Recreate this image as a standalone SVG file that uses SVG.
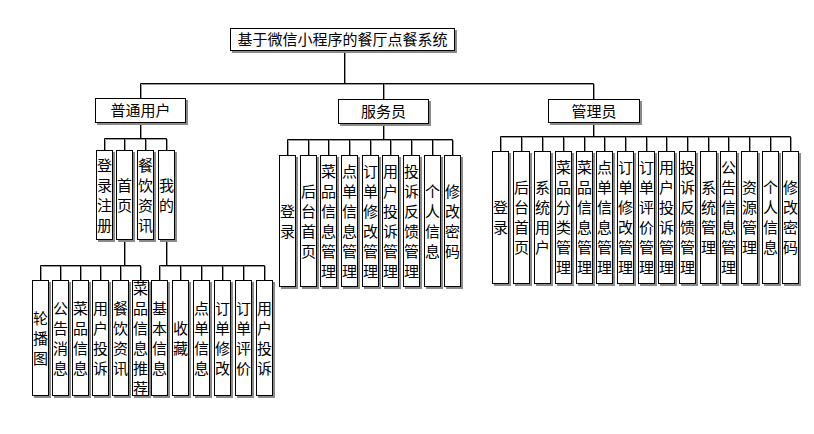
<svg xmlns="http://www.w3.org/2000/svg" width="814" height="434" viewBox="0 0 814 434">
<style>
.b{fill:#fff;stroke:#000;stroke-width:1;filter:url(#sh)}
.t{font-family:"Noto Sans CJK SC","Noto Sans CJK JP",sans-serif;font-size:15px;fill:#000;text-anchor:middle}
.c{fill:none;stroke:#000;stroke-width:1;filter:url(#shl)}
</style>
<defs>
<filter id="sh" filterUnits="userSpaceOnUse" x="0" y="0" width="814" height="434">
<feOffset in="SourceAlpha" dx="2" dy="2" result="o"/>
<feFlood flood-color="#8a8a8a"/>
<feComposite in2="o" operator="in" result="s"/>
<feMerge><feMergeNode in="s"/><feMergeNode in="SourceGraphic"/></feMerge>
</filter>
<filter id="shl" filterUnits="userSpaceOnUse" x="0" y="0" width="814" height="434">
<feOffset in="SourceAlpha" dx="1" dy="1" result="o"/>
<feFlood flood-color="#9a9a9a"/>
<feComposite in2="o" operator="in" result="s"/>
<feMerge><feMergeNode in="s"/><feMergeNode in="SourceGraphic"/></feMerge>
</filter>
</defs>
<rect width="814" height="434" fill="#fff"/>
<g id="connectors">
<path class="c" d="M344.5 50.5V83.5M140.5 83.5H593.5M140.5 83.5V98.5M383.5 83.5V99.5M593.5 83.5V99.5"/>
<path class="c" d="M140.5 122.5V138.5M104.5 138.5H166.5M104.5 138.5V150.5M124.5 138.5V150.5M145.5 138.5V150.5M166.5 138.5V150.5"/>
<path class="c" d="M124.5 239.5V265.5M40.5 265.5H140.5M40.5 265.5V280.5M60.5 265.5V280.5M80.5 265.5V280.5M100.5 265.5V280.5M120.5 265.5V280.5M140.5 265.5V280.5"/>
<path class="c" d="M166.5 239.5V265.5M159.5 265.5H264.5M159.5 265.5V280.5M180.5 265.5V280.5M201.5 265.5V280.5M222.5 265.5V280.5M243.5 265.5V280.5M264.5 265.5V280.5"/>
<path class="c" d="M383.5 123.5V139.5M287.5 139.5H452.5M287.5 139.5V155.5M308.5 139.5V155.5M328.5 139.5V155.5M349.5 139.5V155.5M370.5 139.5V155.5M390.5 139.5V155.5M411.5 139.5V155.5M432.5 139.5V155.5M452.5 139.5V155.5"/>
<path class="c" d="M593.5 122.5V136.5M500.5 136.5H790.5M500.5 136.5V151.5M521.5 136.5V151.5M542.5 136.5V151.5M563.5 136.5V151.5M584.5 136.5V151.5M604.5 136.5V151.5M625.5 136.5V151.5M646.5 136.5V151.5M666.5 136.5V151.5M687.5 136.5V151.5M708.5 136.5V151.5M728.5 136.5V151.5M749.5 136.5V151.5M770.5 136.5V151.5M790.5 136.5V151.5"/>
</g>
<g id="root"><rect class="b" x="230.5" y="28.5" width="224" height="22"/><text class="t" x="342.5" y="45">基于微信小程序的餐厅点餐系统</text></g>
<g id="user"><rect class="b" x="95.5" y="98.5" width="90" height="24"/><text class="t" x="140.5" y="116">普通用户</text></g>
<g id="waiter"><rect class="b" x="338.5" y="99.5" width="90" height="24"/><text class="t" x="383.5" y="117">服务员</text></g>
<g id="admin"><rect class="b" x="548.5" y="99.5" width="91" height="23"/><text class="t" x="594" y="116.5">管理员</text></g>

<g id="u-login"><rect class="b" x="96.5" y="150.5" width="16" height="89"/><text class="t" y="170.5"><tspan x="104.5">登</tspan><tspan x="104.5" dy="20">录</tspan><tspan x="104.5" dy="20">注</tspan><tspan x="104.5" dy="20">册</tspan></text></g>
<g id="u-home"><rect class="b" x="116.5" y="150.5" width="16" height="89"/><text class="t" y="190.5"><tspan x="124.5">首</tspan><tspan x="124.5" dy="20">页</tspan></text></g>
<g id="u-news"><rect class="b" x="137.5" y="150.5" width="16" height="89"/><text class="t" y="170.5"><tspan x="145.5">餐</tspan><tspan x="145.5" dy="20">饮</tspan><tspan x="145.5" dy="20">资</tspan><tspan x="145.5" dy="20">讯</tspan></text></g>
<g id="u-mine"><rect class="b" x="158.5" y="150.5" width="16" height="89"/><text class="t" y="190.5"><tspan x="166.5">我</tspan><tspan x="166.5" dy="20">的</tspan></text></g>

<g id="h-banner"><rect class="b" x="32.5" y="280.5" width="16" height="115"/><text class="t" y="323.5"><tspan x="40.5">轮</tspan><tspan x="40.5" dy="20">播</tspan><tspan x="40.5" dy="20">图</tspan></text></g>
<g id="h-notice"><rect class="b" x="52.5" y="280.5" width="16" height="115"/><text class="t" y="313.5"><tspan x="60.5">公</tspan><tspan x="60.5" dy="20">告</tspan><tspan x="60.5" dy="20">消</tspan><tspan x="60.5" dy="20">息</tspan></text></g>
<g id="h-dish"><rect class="b" x="72.5" y="280.5" width="16" height="115"/><text class="t" y="313.5"><tspan x="80.5">菜</tspan><tspan x="80.5" dy="20">品</tspan><tspan x="80.5" dy="20">信</tspan><tspan x="80.5" dy="20">息</tspan></text></g>
<g id="h-complain"><rect class="b" x="92.5" y="280.5" width="16" height="115"/><text class="t" y="313.5"><tspan x="100.5">用</tspan><tspan x="100.5" dy="20">户</tspan><tspan x="100.5" dy="20">投</tspan><tspan x="100.5" dy="20">诉</tspan></text></g>
<g id="h-news"><rect class="b" x="112.5" y="280.5" width="16" height="115"/><text class="t" y="313.5"><tspan x="120.5">餐</tspan><tspan x="120.5" dy="20">饮</tspan><tspan x="120.5" dy="20">资</tspan><tspan x="120.5" dy="20">讯</tspan></text></g>
<g id="h-recommend"><rect class="b" x="132.5" y="280.5" width="16" height="115"/><text class="t" y="293.5"><tspan x="140.5">菜</tspan><tspan x="140.5" dy="20">品</tspan><tspan x="140.5" dy="20">信</tspan><tspan x="140.5" dy="20">息</tspan><tspan x="140.5" dy="20">推</tspan><tspan x="140.5" dy="20">荐</tspan></text></g>

<g id="m-basic"><rect class="b" x="151.5" y="280.5" width="16" height="115"/><text class="t" y="313.5"><tspan x="159.5">基</tspan><tspan x="159.5" dy="20">本</tspan><tspan x="159.5" dy="20">信</tspan><tspan x="159.5" dy="20">息</tspan></text></g>
<g id="m-fav"><rect class="b" x="172.5" y="280.5" width="16" height="115"/><text class="t" y="333.5"><tspan x="180.5">收</tspan><tspan x="180.5" dy="20">藏</tspan></text></g>
<g id="m-order"><rect class="b" x="193.5" y="280.5" width="16" height="115"/><text class="t" y="313.5"><tspan x="201.5">点</tspan><tspan x="201.5" dy="20">单</tspan><tspan x="201.5" dy="20">信</tspan><tspan x="201.5" dy="20">息</tspan></text></g>
<g id="m-modify"><rect class="b" x="214.5" y="280.5" width="16" height="115"/><text class="t" y="313.5"><tspan x="222.5">订</tspan><tspan x="222.5" dy="20">单</tspan><tspan x="222.5" dy="20">修</tspan><tspan x="222.5" dy="20">改</tspan></text></g>
<g id="m-review"><rect class="b" x="235.5" y="280.5" width="16" height="115"/><text class="t" y="313.5"><tspan x="243.5">订</tspan><tspan x="243.5" dy="20">单</tspan><tspan x="243.5" dy="20">评</tspan><tspan x="243.5" dy="20">价</tspan></text></g>
<g id="m-complain"><rect class="b" x="256.5" y="280.5" width="16" height="115"/><text class="t" y="313.5"><tspan x="264.5">用</tspan><tspan x="264.5" dy="20">户</tspan><tspan x="264.5" dy="20">投</tspan><tspan x="264.5" dy="20">诉</tspan></text></g>

<g id="w-login"><rect class="b" x="279.5" y="155.5" width="16" height="131"/><text class="t" y="216.5"><tspan x="287.5">登</tspan><tspan x="287.5" dy="20">录</tspan></text></g>
<g id="w-home"><rect class="b" x="300.5" y="155.5" width="16" height="131"/><text class="t" y="196.5"><tspan x="308.5">后</tspan><tspan x="308.5" dy="20">台</tspan><tspan x="308.5" dy="20">首</tspan><tspan x="308.5" dy="20">页</tspan></text></g>
<g id="w-dish"><rect class="b" x="320.5" y="155.5" width="16" height="131"/><text class="t" y="176.5"><tspan x="328.5">菜</tspan><tspan x="328.5" dy="20">品</tspan><tspan x="328.5" dy="20">信</tspan><tspan x="328.5" dy="20">息</tspan><tspan x="328.5" dy="20">管</tspan><tspan x="328.5" dy="20">理</tspan></text></g>
<g id="w-order"><rect class="b" x="341.5" y="155.5" width="16" height="131"/><text class="t" y="176.5"><tspan x="349.5">点</tspan><tspan x="349.5" dy="20">单</tspan><tspan x="349.5" dy="20">信</tspan><tspan x="349.5" dy="20">息</tspan><tspan x="349.5" dy="20">管</tspan><tspan x="349.5" dy="20">理</tspan></text></g>
<g id="w-modify"><rect class="b" x="362.5" y="155.5" width="16" height="131"/><text class="t" y="176.5"><tspan x="370.5">订</tspan><tspan x="370.5" dy="20">单</tspan><tspan x="370.5" dy="20">修</tspan><tspan x="370.5" dy="20">改</tspan><tspan x="370.5" dy="20">管</tspan><tspan x="370.5" dy="20">理</tspan></text></g>
<g id="w-complain"><rect class="b" x="382.5" y="155.5" width="16" height="131"/><text class="t" y="176.5"><tspan x="390.5">用</tspan><tspan x="390.5" dy="20">户</tspan><tspan x="390.5" dy="20">投</tspan><tspan x="390.5" dy="20">诉</tspan><tspan x="390.5" dy="20">管</tspan><tspan x="390.5" dy="20">理</tspan></text></g>
<g id="w-feedback"><rect class="b" x="403.5" y="155.5" width="16" height="131"/><text class="t" y="176.5"><tspan x="411.5">投</tspan><tspan x="411.5" dy="20">诉</tspan><tspan x="411.5" dy="20">反</tspan><tspan x="411.5" dy="20">馈</tspan><tspan x="411.5" dy="20">管</tspan><tspan x="411.5" dy="20">理</tspan></text></g>
<g id="w-profile"><rect class="b" x="424.5" y="155.5" width="16" height="131"/><text class="t" y="196.5"><tspan x="432.5">个</tspan><tspan x="432.5" dy="20">人</tspan><tspan x="432.5" dy="20">信</tspan><tspan x="432.5" dy="20">息</tspan></text></g>
<g id="w-password"><rect class="b" x="444.5" y="155.5" width="16" height="131"/><text class="t" y="196.5"><tspan x="452.5">修</tspan><tspan x="452.5" dy="20">改</tspan><tspan x="452.5" dy="20">密</tspan><tspan x="452.5" dy="20">码</tspan></text></g>

<g id="a-login"><rect class="b" x="492.5" y="151.5" width="16" height="132"/><text class="t" y="213"><tspan x="500.5">登</tspan><tspan x="500.5" dy="20">录</tspan></text></g>
<g id="a-home"><rect class="b" x="513.5" y="151.5" width="16" height="132"/><text class="t" y="193"><tspan x="521.5">后</tspan><tspan x="521.5" dy="20">台</tspan><tspan x="521.5" dy="20">首</tspan><tspan x="521.5" dy="20">页</tspan></text></g>
<g id="a-sysuser"><rect class="b" x="534.5" y="151.5" width="16" height="132"/><text class="t" y="193"><tspan x="542.5">系</tspan><tspan x="542.5" dy="20">统</tspan><tspan x="542.5" dy="20">用</tspan><tspan x="542.5" dy="20">户</tspan></text></g>
<g id="a-category"><rect class="b" x="555.5" y="151.5" width="16" height="132"/><text class="t" y="173"><tspan x="563.5">菜</tspan><tspan x="563.5" dy="20">品</tspan><tspan x="563.5" dy="20">分</tspan><tspan x="563.5" dy="20">类</tspan><tspan x="563.5" dy="20">管</tspan><tspan x="563.5" dy="20">理</tspan></text></g>
<g id="a-dish"><rect class="b" x="576.5" y="151.5" width="16" height="132"/><text class="t" y="173"><tspan x="584.5">菜</tspan><tspan x="584.5" dy="20">品</tspan><tspan x="584.5" dy="20">信</tspan><tspan x="584.5" dy="20">息</tspan><tspan x="584.5" dy="20">管</tspan><tspan x="584.5" dy="20">理</tspan></text></g>
<g id="a-order"><rect class="b" x="596.5" y="151.5" width="16" height="132"/><text class="t" y="173"><tspan x="604.5">点</tspan><tspan x="604.5" dy="20">单</tspan><tspan x="604.5" dy="20">信</tspan><tspan x="604.5" dy="20">息</tspan><tspan x="604.5" dy="20">管</tspan><tspan x="604.5" dy="20">理</tspan></text></g>
<g id="a-modify"><rect class="b" x="617.5" y="151.5" width="16" height="132"/><text class="t" y="173"><tspan x="625.5">订</tspan><tspan x="625.5" dy="20">单</tspan><tspan x="625.5" dy="20">修</tspan><tspan x="625.5" dy="20">改</tspan><tspan x="625.5" dy="20">管</tspan><tspan x="625.5" dy="20">理</tspan></text></g>
<g id="a-review"><rect class="b" x="638.5" y="151.5" width="16" height="132"/><text class="t" y="173"><tspan x="646.5">订</tspan><tspan x="646.5" dy="20">单</tspan><tspan x="646.5" dy="20">评</tspan><tspan x="646.5" dy="20">价</tspan><tspan x="646.5" dy="20">管</tspan><tspan x="646.5" dy="20">理</tspan></text></g>
<g id="a-complain"><rect class="b" x="658.5" y="151.5" width="16" height="132"/><text class="t" y="173"><tspan x="666.5">用</tspan><tspan x="666.5" dy="20">户</tspan><tspan x="666.5" dy="20">投</tspan><tspan x="666.5" dy="20">诉</tspan><tspan x="666.5" dy="20">管</tspan><tspan x="666.5" dy="20">理</tspan></text></g>
<g id="a-feedback"><rect class="b" x="679.5" y="151.5" width="16" height="132"/><text class="t" y="173"><tspan x="687.5">投</tspan><tspan x="687.5" dy="20">诉</tspan><tspan x="687.5" dy="20">反</tspan><tspan x="687.5" dy="20">馈</tspan><tspan x="687.5" dy="20">管</tspan><tspan x="687.5" dy="20">理</tspan></text></g>
<g id="a-system"><rect class="b" x="700.5" y="151.5" width="16" height="132"/><text class="t" y="193"><tspan x="708.5">系</tspan><tspan x="708.5" dy="20">统</tspan><tspan x="708.5" dy="20">管</tspan><tspan x="708.5" dy="20">理</tspan></text></g>
<g id="a-notice"><rect class="b" x="720.5" y="151.5" width="16" height="132"/><text class="t" y="173"><tspan x="728.5">公</tspan><tspan x="728.5" dy="20">告</tspan><tspan x="728.5" dy="20">信</tspan><tspan x="728.5" dy="20">息</tspan><tspan x="728.5" dy="20">管</tspan><tspan x="728.5" dy="20">理</tspan></text></g>
<g id="a-resource"><rect class="b" x="741.5" y="151.5" width="16" height="132"/><text class="t" y="193"><tspan x="749.5">资</tspan><tspan x="749.5" dy="20">源</tspan><tspan x="749.5" dy="20">管</tspan><tspan x="749.5" dy="20">理</tspan></text></g>
<g id="a-profile"><rect class="b" x="762.5" y="151.5" width="16" height="132"/><text class="t" y="193"><tspan x="770.5">个</tspan><tspan x="770.5" dy="20">人</tspan><tspan x="770.5" dy="20">信</tspan><tspan x="770.5" dy="20">息</tspan></text></g>
<g id="a-password"><rect class="b" x="782.5" y="151.5" width="16" height="132"/><text class="t" y="193"><tspan x="790.5">修</tspan><tspan x="790.5" dy="20">改</tspan><tspan x="790.5" dy="20">密</tspan><tspan x="790.5" dy="20">码</tspan></text></g>
</svg>
